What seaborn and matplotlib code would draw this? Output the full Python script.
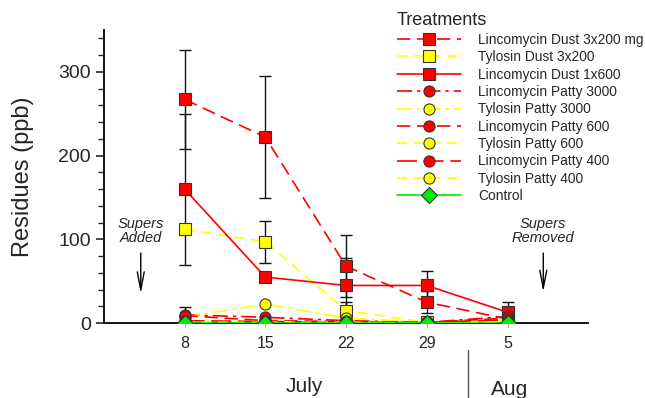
import numpy as np
import pandas as pd
import matplotlib
matplotlib.use("Agg")
import matplotlib.pyplot as plt
import matplotlib.transforms as mtrans
import seaborn as sns

# sampling days (day of July; Aug 5 = 36)
days = [8, 15, 22, 29, 36]
day_labels = ["8", "15", "22", "29", "5"]

treatments = [
    "Lincomycin Dust 3x200 mg", "Tylosin Dust 3x200", "Lincomycin Dust 1x600",
    "Lincomycin Patty 3000", "Tylosin Patty 3000", "Lincomycin Patty 600",
    "Tylosin Patty 600", "Lincomycin Patty 400", "Tylosin Patty 400", "Control",
]

lin_dust_3x200 = [267, 222, 68, 25, 5]
tyl_dust_3x200 = [112, 97, 15, 1, 2]
lin_dust_1x600 = [160, 55, 45, 45, 13]
lin_patty_3000 = [10, 7, 3, 1, 8]
tyl_patty_3000 = [7, 23, 6, 1, 3]
lin_patty_600 = [9, 3, 2, 1, 6]
tyl_patty_600 = [2, 2, 1, 0, 2]
lin_patty_400 = [3, 2, 1, 1, 4]
tyl_patty_400 = [1, 1, 1, 0, 1]
control = [0, 0, 0, 0, 0]

# error bars (only where visible)
err_lin_dust_3x200 = [59, 73, 37, 13, 4]
err_lin_dust_1x600 = [90, 0, 33, 17, 12]
err_tyl_dust_3x200 = [0, 25, 10, 0, 0]
err_lin_patty_3000 = [9, 0, 0, 0, 0]

series = [lin_dust_3x200, tyl_dust_3x200, lin_dust_1x600, lin_patty_3000,
          tyl_patty_3000, lin_patty_600, tyl_patty_600, lin_patty_400,
          tyl_patty_400, control]

df = pd.DataFrame({
    "day": days * len(treatments),
    "ppb": [v for s in series for v in s],
    "Treatment": [t for t in treatments for _ in days],
})

RED, YEL, GRN = "#ff0000", "#ffff00", "#00ee00"
palette = dict(zip(treatments, [RED, YEL, RED, RED, YEL, RED, YEL, RED, YEL, GRN]))
markers = dict(zip(treatments, ["s", "s", "s", "o", "o", "o", "o", "o", "o", "D"]))
dashes = dict(zip(treatments, [(8, 4), (6, 4), "", (9, 3, 2, 3), (9, 3, 2, 3),
                               (8, 4), (6, 4), (12, 4), (6, 4), ""]))

sns.set_style("ticks")
plt.rcParams["font.family"] = ["Liberation Sans", "DejaVu Sans"]

fig = plt.figure(figsize=(6.45, 3.98), dpi=100)
ax = fig.add_axes([0.161, 0.188, 0.751, 0.737])

sns.lineplot(data=df, x="day", y="ppb", hue="Treatment", style="Treatment",
             hue_order=treatments, style_order=treatments, palette=palette,
             markers=markers, dashes=dashes, markersize=8, linewidth=1.2,
             markeredgecolor="#333333", markeredgewidth=0.8,
             legend=False, ax=ax, zorder=3)
handles = list(ax.lines[:len(treatments)])

for vals, errs in [(lin_dust_3x200, err_lin_dust_3x200),
                   (lin_dust_1x600, err_lin_dust_1x600),
                   (tyl_dust_3x200, err_tyl_dust_3x200),
                   (lin_patty_3000, err_lin_patty_3000)]:
    e = np.array(errs, dtype=float)
    m = e > 0
    ax.errorbar(np.array(days)[m], np.array(vals)[m], yerr=e[m], fmt="none",
                ecolor="#111111", elinewidth=1, capsize=4, capthick=1, zorder=2)

ax.set_xlim(1, 43)
ax.set_ylim(0, 350)
ax.set_xticks(days)
ax.set_xticklabels(day_labels, fontsize=11.5)
ax.set_yticks([0, 100, 200, 300])
ax.set_yticks(np.arange(0, 351, 20), minor=True)
ax.tick_params(axis="y", labelsize=14, length=6, width=1.2, direction="out")
ax.tick_params(axis="y", which="minor", length=4, width=1, direction="out")
ax.tick_params(axis="x", length=3, width=0.6, color="#999999", pad=6)
ax.set_xlabel("")
ax.set_ylabel("Residues (ppb)", fontsize=17)
ax.yaxis.set_label_coords(-0.145, 0.5)
sns.despine(ax=ax)
for sp in ["left", "bottom"]:
    ax.spines[sp].set_linewidth(1.3)
    ax.spines[sp].set_color("black")

# supers added / removed annotations
arrow = dict(arrowstyle="->, head_length=1.3, head_width=0.25", color="black", lw=1)
ax.annotate("", xy=(4.2, 32), xytext=(4.2, 87), arrowprops=arrow)
ax.text(4.2, 110, "Supers\nAdded", ha="center", va="center", fontsize=10.5,
        style="italic", linespacing=1.05)
ax.annotate("", xy=(39.1, 34), xytext=(39.1, 87), arrowprops=arrow)
ax.text(39.1, 110, "Supers\nRemoved", ha="center", va="center", fontsize=10.5,
        style="italic", linespacing=1.05)

# month labels below axis
trans = mtrans.blended_transform_factory(ax.transData, ax.transAxes)
ax.plot([32.6, 32.6], [-0.092, -0.27], color="#555555", lw=1,
        transform=trans, clip_on=False)
ax.text(18.4, -0.215, "July", transform=trans, ha="center", va="center", fontsize=15)
ax.text(36.2, -0.225, "Aug", transform=trans, ha="center", va="center", fontsize=15)

leg = fig.legend(handles, treatments, title="Treatments", loc="upper left",
                 bbox_to_anchor=(0.597, 0.998), frameon=False, fontsize=9.9,
                 title_fontsize=13, handlelength=4.65, handletextpad=1.25,
                 labelspacing=0.245, borderpad=0.35, alignment="left")

fig.savefig("out.png", dpi=100)
